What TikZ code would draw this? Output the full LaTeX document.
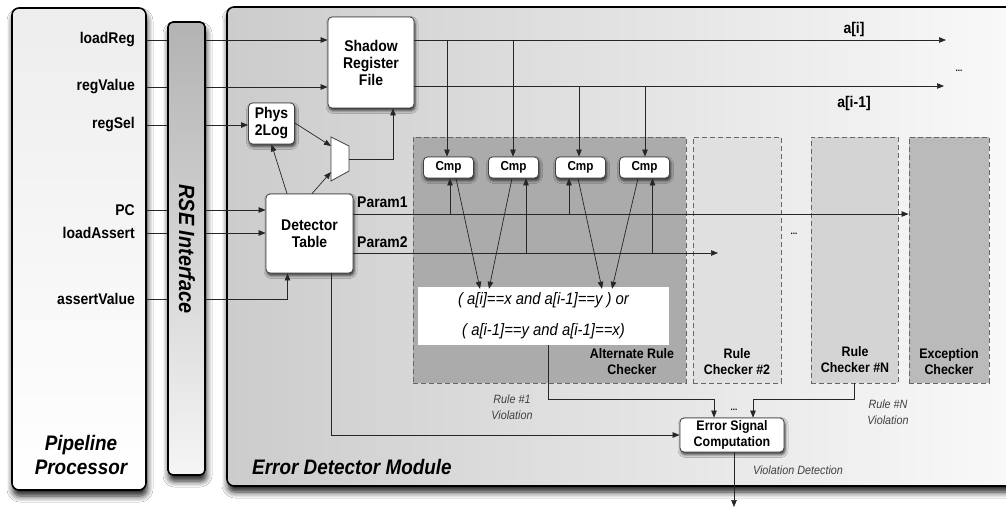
\documentclass[tikz,border=0pt]{standalone}
\usepackage{fontspec}
\setmainfont[FakeStretch=0.9]{Liberation Sans}
\usetikzlibrary{arrows.meta,shadows,shadows.blur}
\begin{document}
\begin{tikzpicture}[x=1pt,y=-1pt,
  bigbox/.style={draw=black, line width=1.6pt, rounded corners=7pt, inner sep=0pt,
     blur shadow={shadow xshift=1pt, shadow yshift=-6pt, shadow blur radius=6pt, shadow opacity=90, shadow blur steps=6}},
  blk/.style={draw=black!75, line width=0.8pt, fill=white, rounded corners=4pt,
     font=\bfseries\fontsize{15.5}{17}\selectfont, align=center, inner sep=0pt,
     blur shadow={shadow xshift=1pt, shadow yshift=-2.5pt, shadow blur radius=3pt, shadow opacity=80, shadow blur steps=4}},
  cmpbox/.style={blk, font=\bfseries\fontsize{13}{14}\selectfont, minimum width=50, minimum height=21},
  chk/.style={draw=black!60, dash pattern=on 5pt off 3pt, line width=0.9pt, inner sep=0pt},
  lbl/.style={font=\bfseries\fontsize{15.5}{16}\selectfont, inner sep=1pt},
  chklbl/.style={font=\bfseries\fontsize{13.8}{16}\selectfont, align=center, inner sep=0pt},
  note/.style={font=\itshape\fontsize{12}{16}\selectfont, text=black!75, align=center, inner sep=0pt},
  big/.style={font=\bfseries\itshape\fontsize{21}{24}\selectfont, align=center, inner sep=0pt},
  sig/.style={line width=0.7pt, draw=black!85},
  arr/.style={sig, -{Triangle[length=7pt,width=5.5pt]}},
]
\useasboundingbox (0,0) rectangle (1006,508);
\fill[white] (0,0) rectangle (1006,508);

% ---------- big boxes ----------
\node[bigbox, top color=black!7, bottom color=white, minimum width=134, minimum height=482] (pp) at (79,249) {};
\node[bigbox, top color=black!30, bottom color=black!4, minimum width=37, minimum height=453, rounded corners=5pt] (rse) at (186.5,248.5) {};
\node[bigbox, left color=black!20, right color=black!2, minimum width=800, minimum height=479] (edm) at (627,246.5) {};

\node[big] (ppl) at (81,455) {Pipeline\\Processor};
\node[big, rotate=-90, font=\bfseries\itshape\fontsize{22}{24}\selectfont] (rsel) at (187,249) {RSE Interface};
\node[big, anchor=west] (edml) at (252,467) {Error Detector Module};

% ---------- checker regions ----------
\node[chk, fill=black!33, minimum width=273, minimum height=246] (arc) at (549.5,260) {};
\node[chk, fill=black!12, minimum width=88, minimum height=246] (rc2) at (737,260) {};
\node[chk, fill=black!17, minimum width=87, minimum height=246] (rcn) at (854.5,260) {};
\node[chk, fill=black!27, minimum width=80, minimum height=246] (ec) at (949,260) {};
\node[chklbl] (arcl) at (632,362) {Alternate Rule\\Checker};
\node[chklbl] (rc2l) at (737,362) {Rule\\Checker \#2};
\node[chklbl] (rcnl) at (855,360) {Rule\\Checker \#N};
\node[chklbl] (ecl) at (949,362) {Exception\\Checker};
\node[font=\bfseries\fontsize{9}{10}\selectfont] (dotsA) at (794,234) {...};

% ---------- blocks ----------
\node[blk, minimum width=86, minimum height=91] (srf) at (371,62.5) {Shadow\\Register\\File};
\node[blk, minimum width=46, minimum height=41] (p2l) at (271.5,123.5) {Phys\\2Log};
\node[blk, minimum width=87, minimum height=79] (dt) at (309.5,233.5) {Detector\\Table};
\node[cmpbox] (cmp1) at (448.5,167.5) {Cmp};
\node[cmpbox] (cmp2) at (513.5,167.5) {Cmp};
\node[cmpbox] (cmp3) at (580.5,167.5) {Cmp};
\node[cmpbox] (cmp4) at (644.5,167.5) {Cmp};
\node[fill=white, minimum width=251, minimum height=58, inner sep=0pt,
      font=\itshape\fontsize{16.5}{31}\selectfont, align=center] (form) at (543.5,316)
      {( a[i]==x and a[i-1]==y ) or\\( a[i-1]==y and a[i-1]==x)};
\node[blk, font=\bfseries\fontsize{13.8}{15.5}\selectfont, minimum width=104, minimum height=34] (esc) at (732,435) {Error Signal\\Computation};

% mux
\coordinate (muxA) at (331,137);
\coordinate (muxB) at (349,146);
\coordinate (muxC) at (349,171);
\coordinate (muxD) at (331,181);
\draw[draw=black!75, line width=0.8pt, fill=white] (muxA) -- (muxB) -- (muxC) -- (muxD) -- cycle;
\coordinate (muxIn1) at (331,146);
\coordinate (muxIn2) at (331,172);
\coordinate (muxOut) at (349,159);

% ---------- signal labels ----------
\node[lbl, anchor=east] (sLR) at (136,40) {loadReg};
\node[lbl, anchor=east] (sRV) at (136,87) {regValue};
\node[lbl, anchor=east] (sRS) at (136,125) {regSel};
\node[lbl, anchor=east] (sPC) at (136,210) {PC};
\node[lbl, anchor=east] (sLA) at (136,233) {loadAssert};
\node[lbl, anchor=east] (sAV) at (136,299) {assertValue};

% pipeline -> RSE
\foreach \s in {sLR,sRV,sRS,sPC,sLA,sAV}
  \draw[sig] (pp.east |- \s) -- (rse.west |- \s);

% RSE -> targets
\draw[arr] (rse.east |- sLR) -- (srf.west |- sLR);
\draw[arr] (rse.east |- sRV) -- (srf.west |- sRV);
\draw[arr] (rse.east |- sRS) -- (p2l.west |- sRS);
\draw[arr] (rse.east |- sPC) -- (dt.west |- sPC);
\draw[arr] (rse.east |- sLA) -- (dt.west |- sLA);
\coordinate (avIn) at ([xshift=-22]dt.south);
\draw[arr] (rse.east |- sAV) -| (avIn);

% phys2log / mux / detector
\draw[arr] ([yshift=0.5]p2l.east) -- (muxIn1);
\draw[arr] ([xshift=-22.5]dt.north) -- (p2l.south);
\draw[arr] ([xshift=2.5]dt.north) -- (muxIn2);
\coordinate (srfIn) at ([xshift=22]srf.south);
\draw[arr] (muxOut) -| (srfIn);

% ---------- SRF outputs ----------
\coordinate (aiEnd) at (946,40);
\coordinate (ai1End) at (944,86);
\draw[arr] (srf.east |- aiEnd) -- (aiEnd);
\draw[arr] (srf.east |- ai1End) -- (ai1End);
\node[lbl] (ail) at (854,29) {a[i]};
\node[lbl] (ai1l) at (854,103) {a[i-1]};
\node[font=\bfseries\fontsize{9}{10}\selectfont] (dotsB) at (959,71) {...};

\coordinate (c1in) at ([xshift=-1.5]cmp1.north);
\coordinate (c2in) at ([xshift=-0.5]cmp2.north);
\coordinate (c3in) at ([xshift=-1.5]cmp3.north);
\coordinate (c4in) at ([xshift=0.5]cmp4.north);
\draw[arr] (c1in |- aiEnd) -- (c1in);
\draw[arr] (c2in |- aiEnd) -- (c2in);
\draw[arr] (c3in |- ai1End) -- (c3in);
\draw[arr] (c4in |- ai1End) -- (c4in);

% ---------- params ----------
\coordinate (p1) at (0,214);
\coordinate (p2) at (0,253);
\coordinate (p2End) at (718,253);
\draw[arr] (dt.east |- p1) -- (ec.west |- p1);
\draw[arr] (dt.east |- p2) -- (p2End);
\node[lbl, anchor=west] (p1l) at (356,202) {Param1};
\node[lbl, anchor=west] (p2l2) at (356,242) {Param2};

\coordinate (c1b) at ([xshift=1.5]cmp1.south);
\coordinate (c2b) at ([xshift=12.5]cmp2.south);
\coordinate (c3b) at ([xshift=-11.5]cmp3.south);
\coordinate (c4b) at ([xshift=8]cmp4.south);
\draw[arr] (c1b |- p1) -- (c1b);
\draw[arr] (c2b |- p2) -- (c2b);
\draw[arr] (c3b |- p1) -- (c3b);
\draw[arr] (c4b |- p2) -- (c4b);

% cmp -> formula
\draw[arr] ([xshift=7.5]cmp1.south) -- ([xshift=-63.5,yshift=-2]form.north);
\draw[arr] ([xshift=-1.5]cmp2.south) -- ([xshift=-54.5,yshift=-2]form.north);
\draw[arr] ([xshift=-2.5]cmp3.south) -- ([xshift=58.5,yshift=-2]form.north);
\draw[arr] ([xshift=-6.5]cmp4.south) -- ([xshift=68.5,yshift=-2]form.north);

% ---------- violations ----------
\coordinate (viol) at (0,399);
\coordinate (e1) at ([xshift=-18]esc.north);
\coordinate (eN) at ([xshift=21]esc.north);
\draw[arr] ([xshift=4.5]form.south) |- (e1 |- viol) -- (e1);
\draw[arr] (rcn.south) |- (eN |- viol) -- (eN);
\draw[arr] ([xshift=21.5]dt.south) |- (esc.west);
\node[font=\bfseries\fontsize{9}{10}\selectfont] (dotsC) at (734,410) {...};
\node[note] (r1v) at (512,407.5) {Rule \#1\\Violation};
\node[note] (rNv) at (888,412) {Rule \#N\\Violation};

\coordinate (out) at ([xshift=2]esc.south |- 0,507);
\draw[arr] ([xshift=2]esc.south) -- (out);
\node[note] (vd) at (798,470) {Violation Detection};
\end{tikzpicture}
\end{document}
